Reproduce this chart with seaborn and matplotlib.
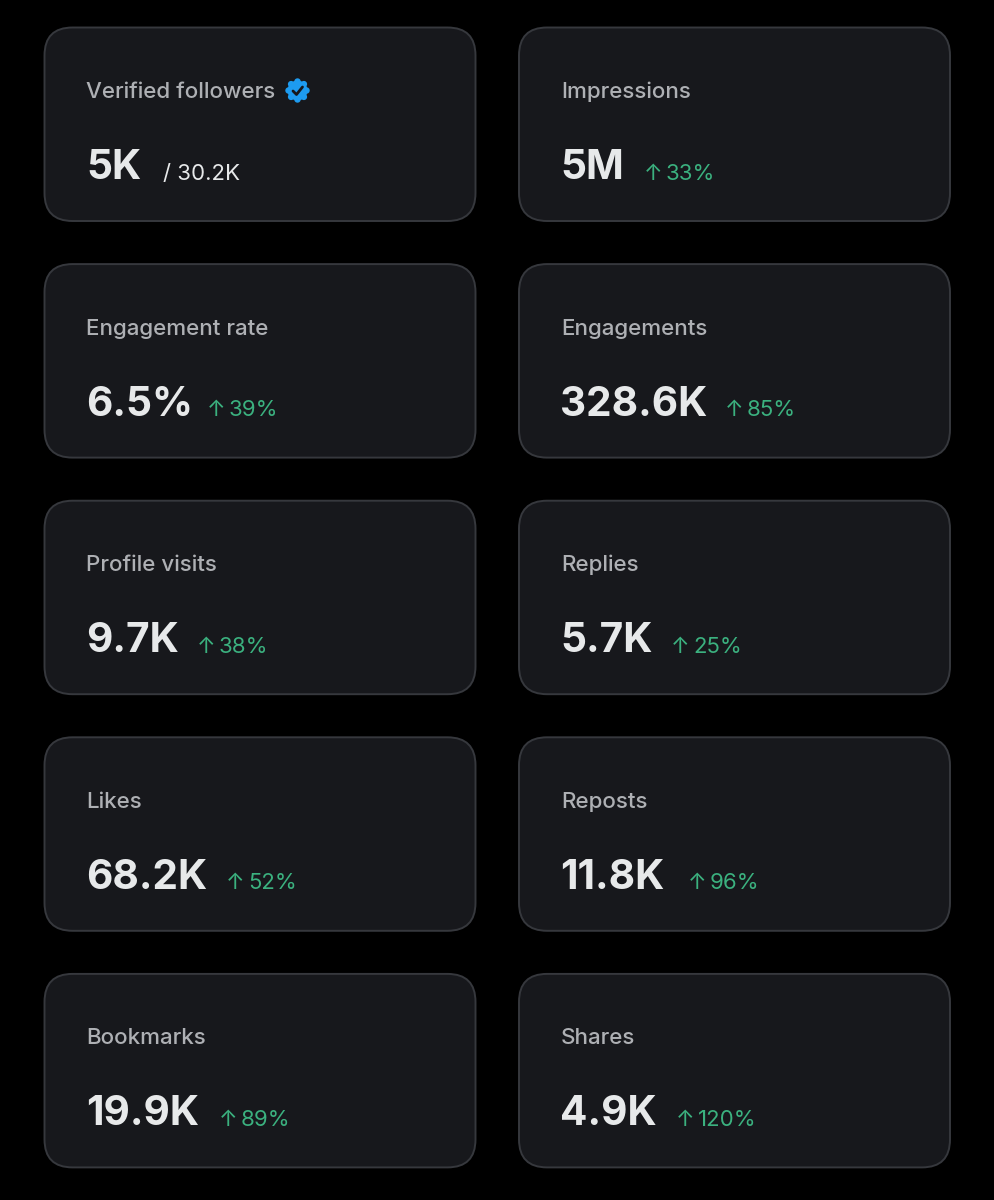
import matplotlib
matplotlib.use("Agg")
import matplotlib.pyplot as plt
from matplotlib.patches import FancyBboxPatch, Circle
import seaborn as sns
import pandas as pd

labels = ["Verified followers", "Impressions", "Engagement rate", "Engagements", "Profile visits",
          "Replies", "Likes", "Reposts", "Bookmarks", "Shares"]
values = ["5K", "5M", "6.5%", "328.6K", "9.7K", "5.7K", "68.2K", "11.8K", "19.9K", "4.9K"]
changes = [None, "33%", "39%", "85%", "38%", "25%", "52%", "96%", "89%", "120%"]
total_note = "/ 30.2K"

# left edge of the text beside each big number, in pixels
SIDE_X = [164, 667, 230, 748, 220, 694, 249, 711, 242, 699]

W, H = 994, 1200
sns.set_theme(style="dark", rc={"figure.facecolor": "black", "axes.facecolor": "black"})
plt.rcParams["font.family"] = ["Inter", "DejaVu Sans"]

fig = plt.figure(figsize=(W / 100, H / 100), dpi=100)
ax = fig.add_axes([0, 0, 1, 1])
ax.set_xlim(0, W)
ax.set_ylim(H, 0)
ax.axis("off")

CARD_X = [44.5, 519]
CARD_W = [431, 431]
CARD_Y0, CARD_STEP, CARD_H, R = 27.5, 236.6, 193.5, 28
LABEL_COL, VALUE_COL, GREEN = "#aeb0b4", "#e7e9ea", "#3bb17f"
CARD_FILL = "#17181c"

frame = pd.DataFrame({"label": labels, "value": values, "change": changes, "side": SIDE_X})

for i, row in frame.iterrows():
    col, r = i % 2, i // 2
    x, y = CARD_X[col], CARD_Y0 + r * CARD_STEP
    ax.add_patch(FancyBboxPatch((x + R, y + R), CARD_W[col] - 2 * R, CARD_H - 2 * R,
                                boxstyle=f"round,pad={R},rounding_size={R}",
                                fc=CARD_FILL, ec="#36383d", lw=1.4, mutation_scale=1))
    tx = x + 41.5
    ax.text(tx + 0.3, y + 64.5, row["label"], color=LABEL_COL, fontsize=16.1, fontweight="medium",
            va="center", ha="left")
    ax.text(tx, y + 140.5, row["value"], color=VALUE_COL, fontsize=29.2, fontweight="bold",
            va="center", ha="left")
    if pd.isna(row["change"]):
        ax.text(row["side"] - 1, y + 146, total_note, color=VALUE_COL, fontsize=16, va="center", ha="left")
    else:
        ax.text(row["side"] - 23, y + 146, "↑", color=GREEN, fontsize=16, va="center", ha="left")
        ax.text(row["side"] - 1, y + 146, row["change"], color=GREEN, fontsize=16, va="center", ha="left")

# verified badge
bx, by = 297.5, 90.5
ax.add_patch(Circle((bx, by), 10, fc="#1d9bf0", ec="none"))
for dx, dy in [(0, -9), (6.4, -6.4), (9, 0), (6.4, 6.4), (0, 9), (-6.4, 6.4), (-9, 0), (-6.4, -6.4)]:
    ax.add_patch(Circle((bx + dx, by + dy), 3.2, fc="#1d9bf0", ec="none"))
ax.plot([bx - 4.5, bx - 1, bx + 5], [by + 0.5, by + 4, by - 3.5], color=CARD_FILL, lw=2,
        solid_capstyle="round", solid_joinstyle="round")

fig.savefig("out.png", dpi=100, facecolor="black")
